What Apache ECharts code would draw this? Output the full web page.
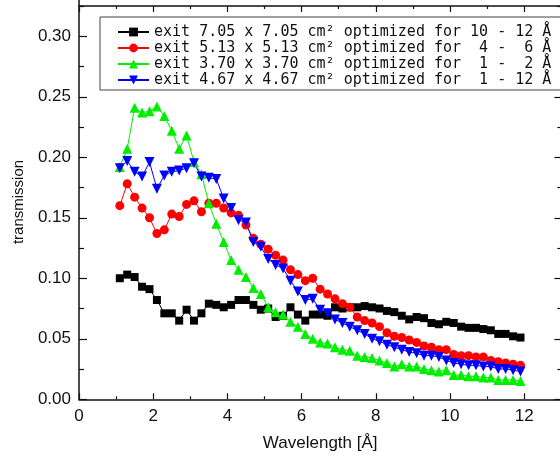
<!DOCTYPE html>
<html>
<head>
<meta charset="utf-8">
<script src="https://cdn.jsdelivr.net/npm/echarts@6/dist/echarts.min.js"></script>
<style>
html,body{margin:0;padding:0;background:#fff;}
#chart{width:560px;height:460px;}
</style>
</head>
<body>
<div id="chart"></div>
<script>
const wavelength = [1.1,1.3,1.5,1.7,1.9,2.1,2.3,2.5,2.7,2.9,3.1,3.3,3.5,3.7,3.9,4.1,4.3,4.5,4.7,4.9,5.1,5.3,5.5,5.7,5.9,6.1,6.3,6.5,6.7,6.9,7.1,7.3,7.5,7.7,7.9,8.1,8.3,8.5,8.7,8.9,9.1,9.3,9.5,9.7,9.9,10.1,10.3,10.5,10.7,10.9,11.1,11.3,11.5,11.7,11.9];

const exit705 = [0.100,0.103,0.101,0.093,0.091,0.082,0.071,0.071,0.065,0.074,
  0.065,0.071,0.079,0.078,0.076,0.078,0.082,0.082,0.078,0.074,
  0.075,0.068,0.069,0.076,0.070,0.065,0.070,0.070,0.069,0.076,
  0.075,0.076,0.076,0.077,0.076,0.075,0.073,0.072,0.069,0.066,
  0.068,0.067,0.063,0.062,0.064,0.063,0.060,0.059,0.059,0.058,
  0.057,0.054,0.054,0.052,0.051];

const exit513 = [0.160,0.178,0.167,0.158,0.150,0.137,0.140,0.153,0.151,0.161,
  0.164,0.155,0.162,0.162,0.158,0.154,0.152,0.144,0.133,0.128,
  0.124,0.119,0.115,0.107,0.103,0.098,0.100,0.091,0.087,0.083,
  0.079,0.076,0.068,0.065,0.063,0.060,0.055,0.052,0.051,0.049,
  0.047,0.044,0.043,0.041,0.041,0.037,0.036,0.036,0.035,0.035,
  0.032,0.031,0.030,0.029,0.028];

const exit370 = [0.192,0.207,0.241,0.237,0.238,0.242,0.234,0.222,0.207,0.218,
  0.196,0.186,0.162,0.145,0.130,0.115,0.107,0.101,0.092,0.087,
  0.076,0.072,0.070,0.064,0.060,0.054,0.050,0.047,0.046,0.043,
  0.041,0.040,0.036,0.035,0.034,0.032,0.030,0.027,0.029,0.027,
  0.027,0.025,0.024,0.023,0.024,0.020,0.020,0.019,0.019,0.018,
  0.018,0.016,0.016,0.016,0.015];

const exit467 = [0.191,0.197,0.188,0.184,0.196,0.174,0.185,0.188,0.189,0.191,
  0.195,0.184,0.183,0.182,0.166,0.158,0.148,0.146,0.130,0.126,
  0.116,0.111,0.108,0.098,0.089,0.082,0.083,0.074,0.071,0.066,
  0.063,0.060,0.057,0.054,0.050,0.048,0.045,0.043,0.041,0.039,
  0.038,0.036,0.036,0.035,0.032,0.030,0.029,0.028,0.028,0.027,
  0.027,0.025,0.025,0.024,0.023];

const seriesNames = [
  'exit 7.05 x 7.05 cm\u00b2 optimized for 10 - 12 \u00c5',
  'exit 5.13 x 5.13 cm\u00b2 optimized for  4 -  6 \u00c5',
  'exit 3.70 x 3.70 cm\u00b2 optimized for  1 -  2 \u00c5',
  'exit 4.67 x 4.67 cm\u00b2 optimized for  1 - 12 \u00c5'
];
const xTitle = 'Wavelength [\u00c5]';
const yTitle = 'transmission';

const pairs = vals => wavelength.map((w, i) => [w, vals[i]]);

const chart = echarts.init(document.getElementById('chart'), null, {renderer: 'canvas'});
const axisColor = '#111';
const sans = 'Liberation Sans, Arial, sans-serif';

function mkSeries(name, vals, color, symbol, size, rotate) {
  return {
    name: name, type: 'line', data: pairs(vals),
    symbol: symbol, symbolSize: size, symbolRotate: rotate || 0,
    showSymbol: true, showAllSymbol: true,
    lineStyle: {color: color, width: 1},
    itemStyle: {color: color},
    emphasis: {disabled: true},
    xAxisIndex: 0, yAxisIndex: 0
  };
}

chart.setOption({
  animation: false,
  backgroundColor: '#fff',
  grid: {left: 79, top: -24.25, width: 519.4, height: 423.5, outerBoundsMode: 'none', containLabel: false},
  legend: {
    orient: 'vertical', left: 100, top: 17,
    padding: [7.5, 12, 2.5, 17],
    itemWidth: 31, itemHeight: 11, itemGap: 1,
    borderColor: '#444', borderWidth: 1, backgroundColor: '#fff',
    textStyle: {fontFamily: 'DejaVu Sans Mono', fontSize: 15, color: '#111', lineHeight: 15},
    data: seriesNames
  },
  xAxis: [{
    type: 'value', position: 'bottom', min: 0, max: 14, interval: 2,
    axisLine: {show: true, onZero: false, lineStyle: {color: axisColor, width: 1.5}},
    axisTick: {show: true, inside: true, length: 6, lineStyle: {color: axisColor, width: 1.2}},
    minorTick: {show: true, splitNumber: 2, length: 3, lineStyle: {color: axisColor, width: 1.2}},
    splitLine: {show: false},
    axisLabel: {fontFamily: sans, fontSize: 17, color: '#111', margin: 9},
    name: xTitle, nameLocation: 'middle', nameGap: 36,
    nameTextStyle: {fontFamily: sans, fontSize: 17, color: '#111', padding: [0, 37, 0, 0]}
  }, {
    type: 'value', position: 'top', min: 0, max: 14, interval: 2, offset: -30.25,
    axisLine: {show: true, onZero: false, lineStyle: {color: axisColor, width: 1.5}},
    axisTick: {show: true, inside: true, length: 6, lineStyle: {color: axisColor, width: 1.2}},
    minorTick: {show: true, splitNumber: 2, length: 3, lineStyle: {color: axisColor, width: 1.2}},
    splitLine: {show: false},
    axisLabel: {show: false}
  }],
  yAxis: [{
    type: 'value', position: 'left', min: 0, max: 0.35, interval: 0.05,
    axisLine: {show: true, onZero: false, lineStyle: {color: axisColor, width: 1.5}},
    axisTick: {show: true, inside: true, length: 8, lineStyle: {color: axisColor, width: 1.2}},
    minorTick: {show: true, splitNumber: 2, length: 5, lineStyle: {color: axisColor, width: 1.2}},
    splitLine: {show: false},
    axisLabel: {fontFamily: sans, fontSize: 17, color: '#111', margin: 8, formatter: v => v.toFixed(2)},
    name: yTitle, nameLocation: 'middle', nameGap: 53,
    nameTextStyle: {fontFamily: sans, fontSize: 15, color: '#111', padding: [0, 29, 0, 0]}
  }, {
    type: 'value', position: 'right', min: 0, max: 0.35, interval: 0.05, offset: -37,
    axisLine: {show: false, onZero: false},
    axisTick: {show: true, inside: true, length: 7, lineStyle: {color: axisColor, width: 1.2}},
    minorTick: {show: true, splitNumber: 2, length: 4, lineStyle: {color: axisColor, width: 1.2}},
    splitLine: {show: false},
    axisLabel: {show: false}
  }],
  series: [
    mkSeries(seriesNames[0], exit705, '#000000', 'rect', 8),
    mkSeries(seriesNames[1], exit513, '#ff0000', 'circle', 9),
    mkSeries(seriesNames[2], exit370, '#00ee00', 'triangle', 10),
    mkSeries(seriesNames[3], exit467, '#0000ff', 'triangle', 10, 180)
  ]
});
</script>
</body>
</html>
